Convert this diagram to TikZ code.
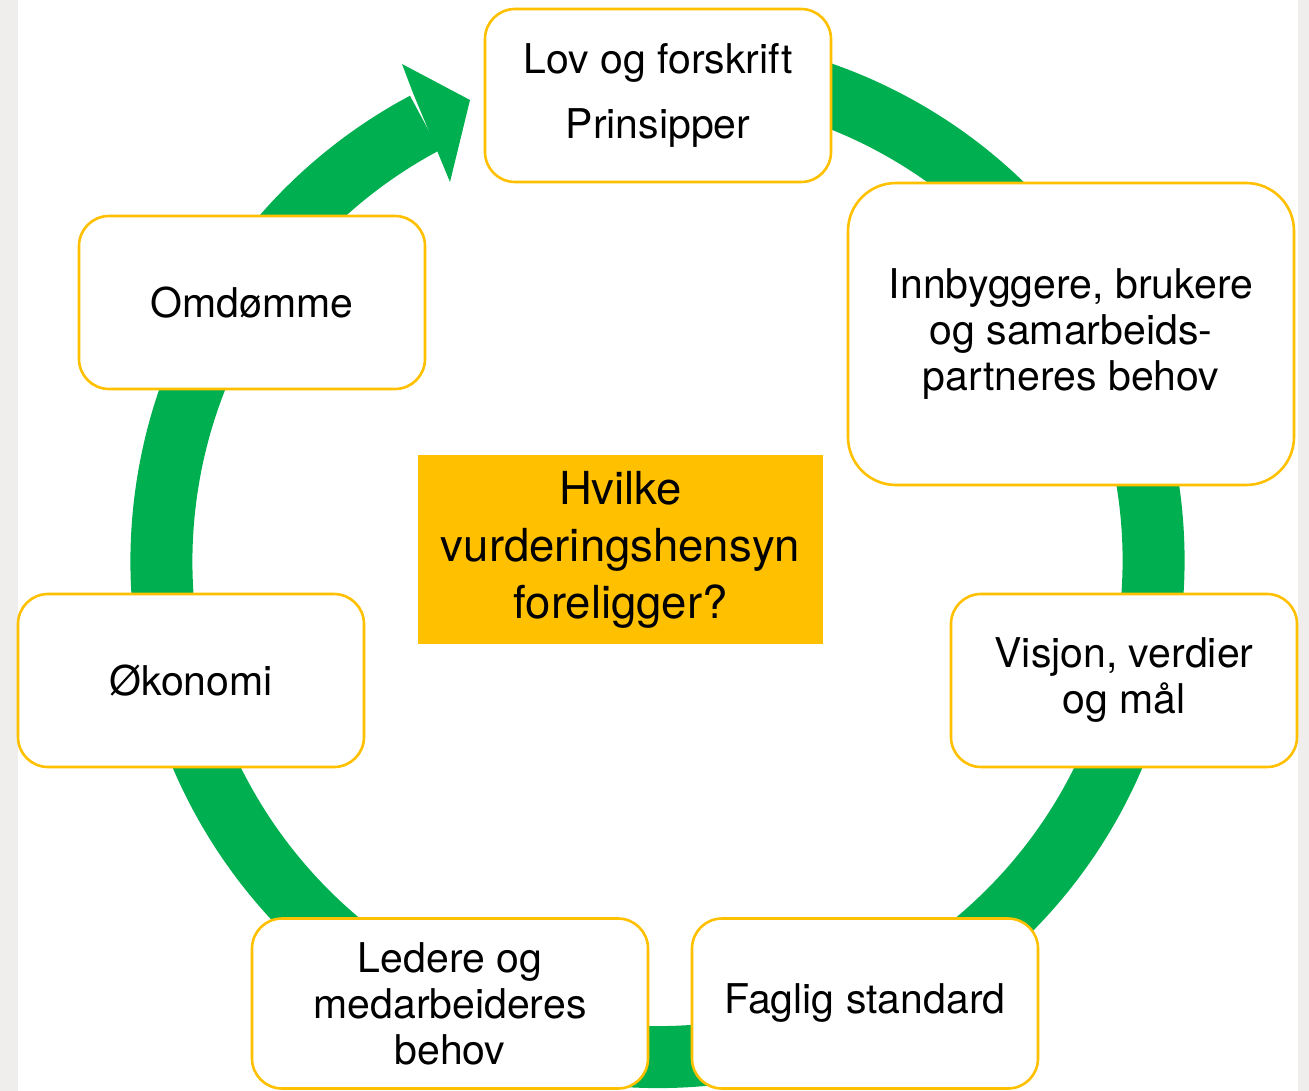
\documentclass[tikz,border=0pt]{standalone}
\usepackage{fontspec}
\setmainfont{TeX Gyre Heros}
\definecolor{ringgreen}{HTML}{00B050}
\definecolor{boxgold}{HTML}{FFC000}
\definecolor{sidegray}{HTML}{EFEEEC}
\begin{document}
\begin{tikzpicture}[x=1pt,y=-1pt,
  box/.style={draw=boxgold, line width=2.6pt, fill=white, rounded corners=30pt,
    inner sep=0pt, align=center, font=\fontsize{41}{46}\selectfont},
  ring/.style={draw=ringgreen, line width=62pt},
  headfill/.style={fill=ringgreen},
  center/.style={fill=boxgold, inner sep=0pt, align=center,
    font=\fontsize{45.5}{57}\selectfont}]
\useasboundingbox (0,0) rectangle (1309,1091);
\fill[white] (0,0) rectangle (1309,1091);
\fill[sidegray] (0,0) rectangle (18,1091);
\fill[sidegray] (1298,0) rectangle (1309,1091);
\coordinate (c) at (657.5,561);
% green cycle
\draw[ring] ([shift={(-80:496)}]c) arc[start angle=-80, end angle=242, radius=496];
\fill[headfill] (413,93) -- (402,64) -- (470,100) -- (450,182) -- (438,153) -- cycle;
% boxes
\node[box, minimum width=346pt, minimum height=173pt, font=\fontsize{41}{65}\selectfont] (law) at (658,95.5) {Lov og forskrift\\Prinsipper};
\node[box, rounded corners=48pt, minimum width=446pt, minimum height=302pt] (cit) at (1071,334) {Innbyggere, brukere\\og samarbeids-\\partneres behov};
\node[box, minimum width=346pt, minimum height=173pt] (omd) at (252,302.5) {Omdømme};
\node[box, minimum width=346pt, minimum height=173pt] (oko) at (191,680.5) {Økonomi};
\node[box, minimum width=346pt, minimum height=173pt] (vis) at (1124,680.5) {Visjon, verdier\\og mål};
\node[box, minimum width=396pt, minimum height=170pt] (led) at (450,1003.5) {Ledere og\\medarbeideres\\behov};
\node[box, minimum width=346pt, minimum height=170pt] (fag) at (865,1003.5) {\raisebox{-4pt}{Faglig standard}};
\node[center, minimum width=405pt, minimum height=189pt] (q) at (620.5,549.5) {Hvilke\\vurderingshensyn\\foreligger?};
\end{tikzpicture}
\end{document}
